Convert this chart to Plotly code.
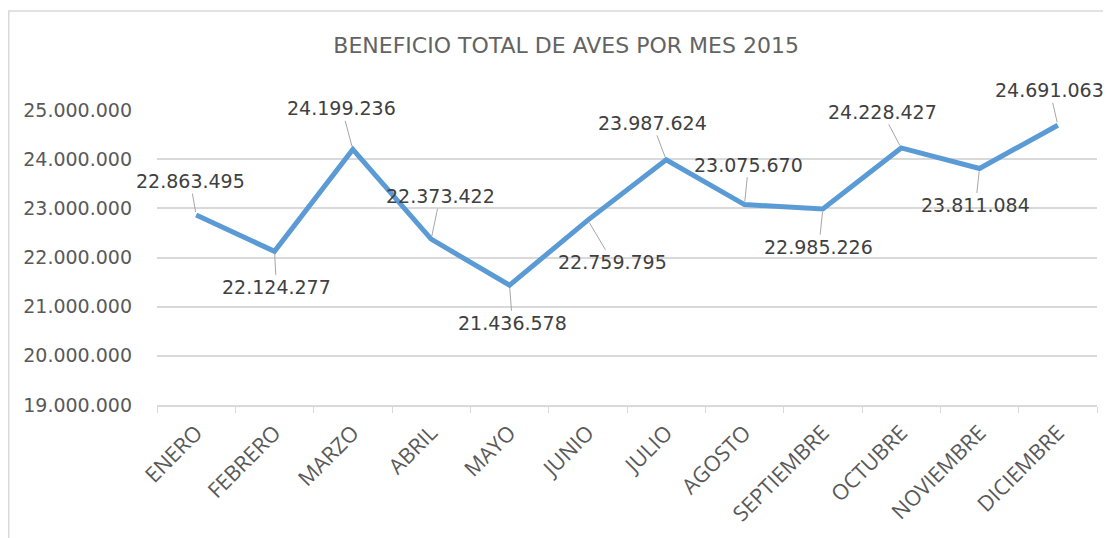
import plotly.graph_objects as go

meses = ["ENERO", "FEBRERO", "MARZO", "ABRIL", "MAYO", "JUNIO", "JULIO",
         "AGOSTO", "SEPTIEMBRE", "OCTUBRE", "NOVIEMBRE", "DICIEMBRE"]
beneficio = [22863495, 22124277, 24199236, 22373422, 21436578, 22759795,
             23987624, 23075670, 22985226, 24228427, 23811084, 24691063]
y_ticks = [19000000, 20000000, 21000000, 22000000, 23000000, 24000000, 25000000]
y_tick_labels = ["19.000.000", "20.000.000", "21.000.000", "22.000.000",
                 "23.000.000", "24.000.000", "25.000.000"]
titulo = "BENEFICIO TOTAL DE AVES POR MES 2015"

# label offsets (pixels) relative to each point
offsets = [(-6, -34), (2, 36), (-11, -41), (9, -43), (3, 38), (25, 42),
           (-14, -37), (4, -40), (-4, 38), (-19, -36), (-4, 37), (-8, -35)]

def fmt(v):
    return f"{v:,}".replace(",", ".")

TXT = "#595959"
NUMFONT = "DejaVu Sans"

fig = go.Figure()
fig.add_trace(go.Scatter(
    x=meses, y=beneficio, mode="lines",
    line=dict(color="#5B9BD5", width=5),
    hoverinfo="skip", showlegend=False,
))

annotations = []
for m, v, (dx, dy) in zip(meses, beneficio, offsets):
    annotations.append(dict(
        x=m, y=v, xref="x", yref="y", text=fmt(v),
        showarrow=True, arrowhead=0, arrowwidth=1, arrowcolor="#A6A6A6",
        ax=dx, ay=dy, standoff=3,
        font=dict(family=NUMFONT, size=19, color="#404040"),
    ))

fig.update_layout(
    width=1103, height=530,
    margin=dict(l=149, r=14, t=102, b=133),
    paper_bgcolor="white", plot_bgcolor="white",
    title=dict(text=titulo, x=0.506, xanchor="center", y=0.93, yanchor="middle",
               font=dict(family=NUMFONT, size=22, color="#636363")),
    annotations=annotations,
    shapes=[dict(type="rect", xref="paper", yref="paper",
                 x0=-0.1577, x1=1.03, y0=-0.5, y1=1.3356,
                 line=dict(color="#D9D9D9", width=1.5), layer="below")],
    xaxis=dict(
        type="category", range=[-0.5, 11.5], tickangle=-45,
        tickson="boundaries", ticks="outside", ticklen=6, tickcolor="#D9D9D9",
        showline=True, linecolor="#D9D9D9", linewidth=1.5,
        showgrid=False, ticklabelstandoff=5,
        tickfont=dict(family="Open Sans", size=21.5, color=TXT),
    ),
    yaxis=dict(
        range=[19000000, 25000000], tickvals=y_ticks, ticktext=y_tick_labels,
        showgrid=True, gridcolor="#D9D9D9", gridwidth=1.5,
        zeroline=False, showline=False, ticks="", ticklabelstandoff=24,
        tickfont=dict(family=NUMFONT, size=19, color=TXT),
    ),
)

fig.write_html("out.html")
